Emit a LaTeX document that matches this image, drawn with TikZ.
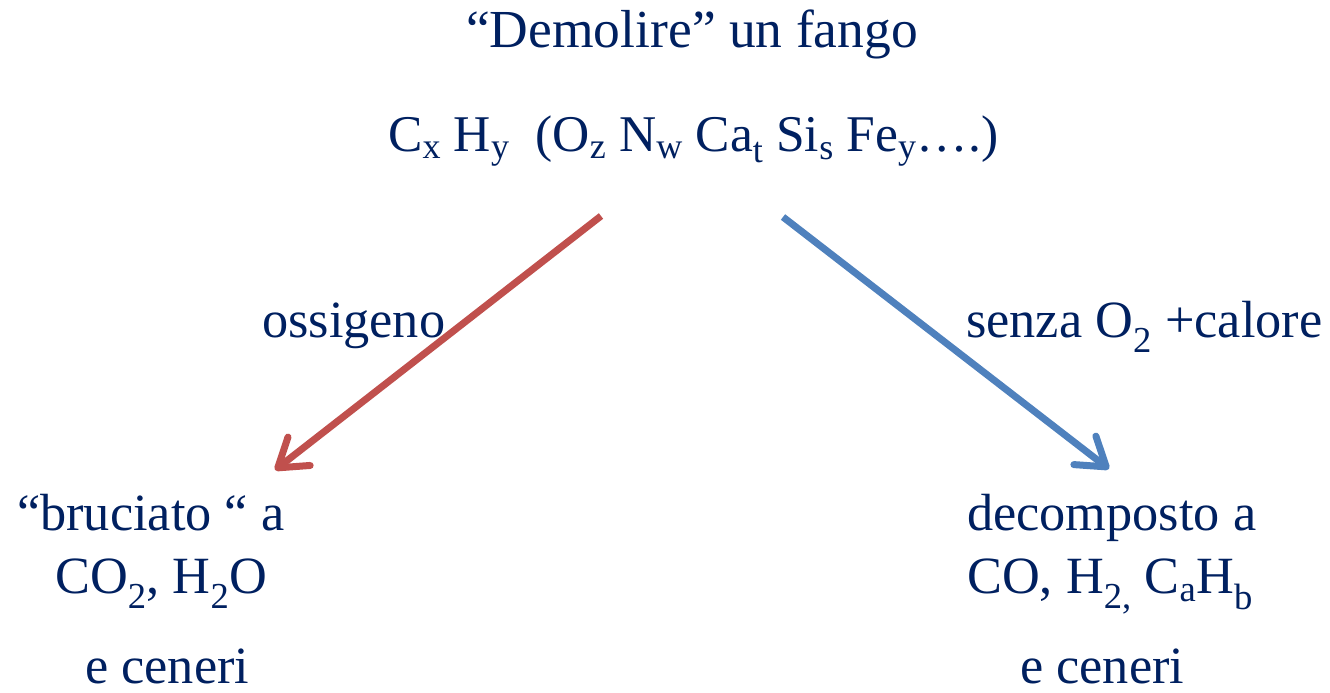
\documentclass[tikz,border=0pt]{standalone}
\usepackage{fontspec}
\setmainfont{Liberation Serif}
\usetikzlibrary{arrows.meta}
\definecolor{navy}{RGB}{0,32,96}
\definecolor{burnred}{RGB}{192,80,77}
\definecolor{heatblue}{RGB}{79,129,189}
\begin{document}
\begin{tikzpicture}[x=1pt,y=-1pt,
    txt/.style={inner sep=0pt,text=navy,anchor=base west,font=\fontsize{52.3}{62}\selectfont},
    route/.style={line width=7pt,-{Straight Barb[length=27pt,width=36pt,round]}}]
  \useasboundingbox (0,0) rectangle (1330,693);
  % the sludge
  \node[txt,anchor=base,font=\fontsize{53.5}{64}\selectfont] (title) at (692,48) {“Demolire” un fango};
  \node[txt,font=\fontsize{51.5}{62}\selectfont] (formula) at (388,151) {C\textsubscript{x} H\textsubscript{y}\ \ (O\textsubscript{z} N\textsubscript{w} Ca\textsubscript{t} Si\textsubscript{s} Fe\textsubscript{y}….)};
  % two ways
  \coordinate (redstart) at (601,216);
  \coordinate (redtip) at (275,470);
  \coordinate (bluestart) at (783,217);
  \coordinate (bluetip) at (1109,469);
  \draw[route,burnred] (redstart) -- (redtip);
  \draw[route,heatblue] (bluestart) -- (bluetip);
  \node[txt] (oxygen) at (262,337) {ossigeno};
  \node[txt] (heat) at (966,337) {senza O\textsubscript{2} +calore};
  % products
  \node[txt] (burnt) at (17,530) {“bruciato “ a};
  \node[txt] (burntgas) at (55,593) {CO\textsubscript{2}, H\textsubscript{2}O};
  \node[txt] (burntash) at (85,683) {e ceneri};
  \node[txt] (split) at (967,530) {decomposto a};
  \node[txt] (splitgas) at (967,593) {CO, H\textsubscript{2,} C\textsubscript{a}H\textsubscript{b}};
  \node[txt] (splitash) at (1020,683) {e ceneri};
\end{tikzpicture}
\end{document}
